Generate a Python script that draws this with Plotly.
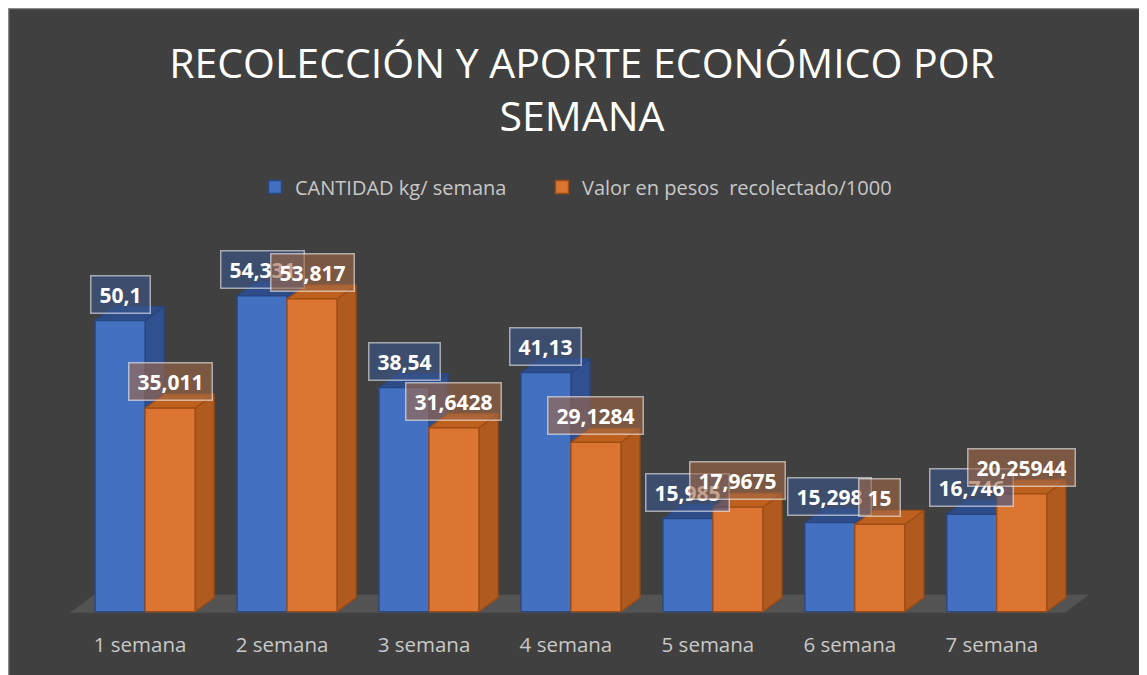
import plotly.graph_objects as go

categories = ["1 semana", "2 semana", "3 semana", "4 semana", "5 semana", "6 semana", "7 semana"]
cantidad_kg = [50.1, 54.331, 38.54, 41.13, 15.985, 15.298, 16.746]
valor_pesos = [35.011, 53.817, 31.6428, 29.1284, 17.9675, 15, 20.25944]
series_names = ["CANTIDAD kg/ semana", "Valor en pesos  recolectado/1000"]
title_text = "RECOLECCIÓN Y APORTE ECONÓMICO POR<br>SEMANA"

# page has an 8px body margin, so the figure fills the rest of the window
W, H = 1139, 667
ML, MR, MT, MB = 59, 48, 226, 46
XR = [-0.55, 6.72]
YR = [-3, 65]

BW = 0.352            # bar width (category units)
DX, DY = 0.134, 2.41  # 3D depth offsets

BG = "#404040"
TXT = "#C8C8C8"

styles = [
    dict(front="#4370C0", side="#30508F", top="#2E4C88", edge="#2A4680",
         box="rgba(59,86,139,0.62)"),
    dict(front="#DB7531", side="#B15A1F", top="#BE611F", edge="#9E4C14",
         box="rgba(160,104,70,0.62)"),
]


def label(v):
    s = str(v)
    if s.endswith(".0"):
        s = s[:-2]
    return s.replace(".", ",")


fig = go.Figure()

# floor
n = len(categories)
fx0, fx1 = -0.53, n - 1 + 0.48
fig.add_trace(go.Scatter(
    x=[fx0, fx1, fx1 + 0.17, fx0 + 0.17, fx0],
    y=[-0.2, -0.2, 2.9, 2.9, -0.2],
    fill="toself", fillcolor="#535353", mode="lines", line=dict(width=0),
    hoverinfo="skip", showlegend=False))

for si, vals in enumerate([cantidad_kg, valor_pesos]):
    st = styles[si]
    off = -BW if si == 0 else 0.0
    sx, sy, tx, ty, frx, fry = [], [], [], [], [], []
    for i, v in enumerate(vals):
        xl = i + off
        xr = xl + BW
        sx += [xr, xr + DX, xr + DX, xr, xr, None]
        sy += [0, DY, v + DY, v, 0, None]
        tx += [xl, xl + DX, xr + DX, xr, xl, None]
        ty += [v, v + DY, v + DY, v, v, None]
        frx += [xl, xr, xr, xl, xl, None]
        fry += [0, 0, v, v, 0, None]
    for xs, ys, col in [(sx, sy, st["side"]), (tx, ty, st["top"]), (frx, fry, st["front"])]:
        fig.add_trace(go.Scatter(
            x=xs, y=ys, fill="toself", fillcolor=col, mode="lines",
            line=dict(color=st["edge"], width=1.3), hoverinfo="skip",
            showlegend=False, connectgaps=False))
    # legend entry
    fig.add_trace(go.Scatter(
        x=[None], y=[None], mode="markers", name=series_names[si],
        legend="legend" if si == 0 else "legend2",
        marker=dict(symbol="square", size=13, color=st["front"],
                    line=dict(color=st["edge"], width=1.5))))

annotations = []
for si, vals in enumerate([cantidad_kg, valor_pesos]):
    st = styles[si]
    off = -BW if si == 0 else 0.0
    for i, v in enumerate(vals):
        t = label(v)
        nd = sum(c.isdigit() for c in t)
        w = nd * 12 + (6 if "," in t else 0) + 8
        annotations.append(dict(
            x=i + off + BW / 2, y=v, xref="x", yref="y", text="<b>%s</b>" % t,
            showarrow=False, yanchor="bottom", xanchor="center", yshift=7,
            font=dict(family="Open Sans", size=21, color="white"),
            bgcolor=st["box"], bordercolor="rgba(255,255,255,0.55)",
            borderwidth=1.5, borderpad=4, width=w))

pw = W - ML - MR
ph = H - MT - MB


def xp(px):
    return (px - ML) / pw


def yp(py):
    return (H - MB - py) / ph


leg_common = dict(orientation="h", yanchor="middle", y=yp(179), xanchor="left",
                  font=dict(family="Open Sans", size=20, color=TXT),
                  bgcolor="rgba(0,0,0,0)")

fig.update_layout(
    width=W, height=H,
    margin=dict(l=ML, r=MR, t=MT, b=MB, pad=0),
    paper_bgcolor=BG, plot_bgcolor="rgba(0,0,0,0)",
    shapes=[
        dict(type="line", xref="paper", yref="paper", layer="above",
             x0=xp(0.5), x1=xp(0.5), y0=yp(H), y1=yp(0),
             line=dict(width=1.5, color="#8A8A8A")),
        dict(type="line", xref="paper", yref="paper", layer="above",
             x0=xp(0), x1=xp(W), y0=yp(0.5), y1=yp(0.5),
             line=dict(width=1.5, color="#8A8A8A")),
    ],
    title=dict(text=title_text, x=574 / W, xanchor="center", xref="container",
               y=1 - 70 / H, yanchor="top", yref="container",
               font=dict(family="Open Sans", size=41, color="white")),
    legend=dict(x=xp(247), **leg_common),
    legend2=dict(x=xp(534), **leg_common),
    xaxis=dict(range=XR, tickmode="array", tickvals=list(range(n)), ticktext=categories,
               showgrid=False, zeroline=False, showline=False, ticks="",
               tickfont=dict(family="Open Sans", size=20.5, color=TXT),
               ticklabelshift=-5, ticklabelstandoff=1, fixedrange=True),
    yaxis=dict(range=YR, visible=False, showgrid=False, zeroline=False, fixedrange=True),
    annotations=annotations,
    showlegend=True,
)

fig.write_html("out.html")
